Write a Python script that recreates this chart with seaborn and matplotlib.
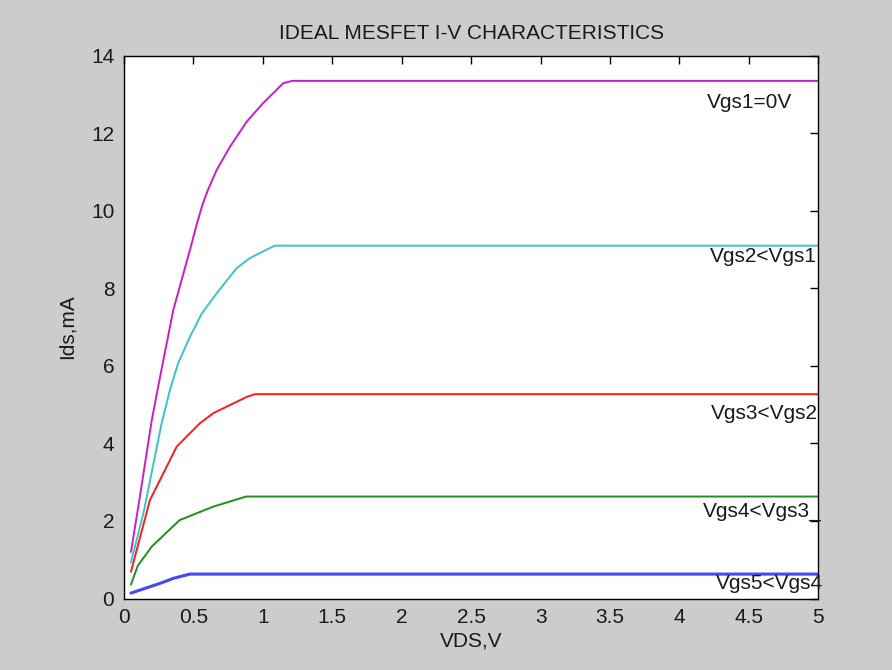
import matplotlib
matplotlib.use("Agg")
import matplotlib.pyplot as plt
import seaborn as sns
import pandas as pd

# Drain current vs drain-source voltage for five gate biases
vds_1 = [0.05, 0.10, 0.20, 0.26, 0.355, 0.475, 0.52, 0.56, 0.60, 0.667, 0.763, 0.884, 1.00, 1.147, 1.21, 5.0]
ids_1 = [1.20, 2.30, 4.60, 5.72, 7.44, 8.99, 9.60, 10.10, 10.50, 11.05, 11.65, 12.30, 12.77, 13.29, 13.35, 13.35]

vds_2 = [0.05, 0.14, 0.27, 0.331, 0.39, 0.475, 0.56, 0.667, 0.811, 0.907, 1.00, 1.087, 5.0]
ids_2 = [0.93, 2.20, 4.50, 5.38, 6.07, 6.75, 7.35, 7.87, 8.52, 8.78, 8.95, 9.10, 9.10]

vds_3 = [0.05, 0.187, 0.38, 0.547, 0.643, 0.884, 0.943, 5.0]
ids_3 = [0.69, 2.54, 3.92, 4.52, 4.78, 5.20, 5.27, 5.27]

vds_4 = [0.05, 0.10, 0.20, 0.40, 0.643, 0.88, 5.0]
ids_4 = [0.36, 0.85, 1.34, 2.02, 2.37, 2.63, 2.63]

vds_5 = [0.05, 0.259, 0.355, 0.475, 5.0]
ids_5 = [0.14, 0.39, 0.52, 0.63, 0.63]

curve_names = ["Vgs1=0V", "Vgs2<Vgs1", "Vgs3<Vgs2", "Vgs4<Vgs3_", "Vgs5<Vgs4"]
curve_colors = ["#c81ec8", "#3cc4c4", "#ff1a1a", "#1f8f1f", "#4646ff"]
curve_widths = [1.4, 1.4, 1.4, 1.4, 2.2]

# Label anchor points (left edge, vertical centre) in data units
label_x = [4.20, 4.22, 4.23, 4.17, 4.26]
label_y = [12.8, 8.82, 4.78, 2.24, 0.39]

x_ticks = [0, 0.5, 1, 1.5, 2, 2.5, 3, 3.5, 4, 4.5, 5]
x_tick_labels = ["0", "0.5", "1", "1.5", "2", "2.5", "3", "3.5", "4", "4.5", "5"]
y_ticks = [0, 2, 4, 6, 8, 10, 12, 14]

frames = []
for name, xs, ys in zip(curve_names,
                        [vds_1, vds_2, vds_3, vds_4, vds_5],
                        [ids_1, ids_2, ids_3, ids_4, ids_5]):
    frames.append(pd.DataFrame({"VDS": xs, "Ids": ys, "curve": name}))
data = pd.concat(frames, ignore_index=True)

sns.set_style("white")
plt.rcParams["font.family"] = ["Liberation Sans", "DejaVu Sans"]

FS = 15
TXT = "#1a1a1a"

fig = plt.figure(figsize=(8.92, 6.70), dpi=100)
fig.patch.set_facecolor("#cccccc")
ax = fig.add_axes([0.139, 0.1067, 0.7784, 0.8102])
ax.set_facecolor("white")

for name, color, lw in zip(curve_names, curve_colors, curve_widths):
    sns.lineplot(data=data[data["curve"] == name], x="VDS", y="Ids",
                 sort=False, estimator=None, color=color, linewidth=lw,
                 ax=ax, legend=False)

for name, lx, ly in zip(curve_names, label_x, label_y):
    ax.text(lx, ly, name, ha="left", va="center", fontsize=FS,
            color=TXT, clip_on=False, zorder=5)

ax.set_xlim(0, 5)
ax.set_ylim(0, 14)
ax.set_xticks(x_ticks)
ax.set_xticklabels(x_tick_labels)
ax.set_yticks(y_ticks)
ax.tick_params(axis="both", direction="in", length=6, width=1, color="black",
               labelsize=FS, labelcolor=TXT, top=True, right=True, pad=7)
for side in ax.spines.values():
    side.set_visible(True)
    side.set_color("black")
    side.set_linewidth(1.0)

ax.set_title("IDEAL MESFET I-V CHARACTERISTICS", fontsize=FS,
             color=TXT, pad=12)
ax.set_xlabel("VDS,V", fontsize=FS, color=TXT, labelpad=3)
ax.set_ylabel("Ids,mA", fontsize=FS, color=TXT, labelpad=10)

fig.savefig("out.png", dpi=100, facecolor=fig.get_facecolor())
